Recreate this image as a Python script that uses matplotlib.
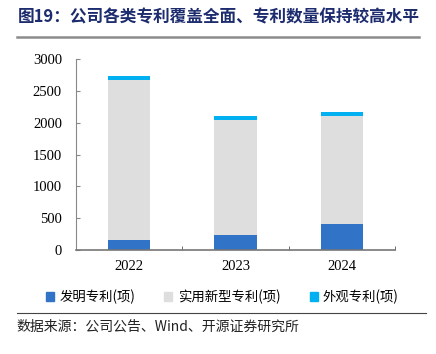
import numpy as np
import matplotlib.pyplot as plt
from matplotlib.lines import Line2D

plt.rcParams["font.family"] = ["Noto Sans CJK SC", "DejaVu Sans"]

years = ["2022", "2023", "2024"]
invention = [155, 240, 405]
utility = [2515, 1800, 1705]
design = [65, 60, 62]

series_names = ["发明专利(项)", "实用新型专利(项)", "外观专利(项)"]
colors = ["#3173C6", "#DEDEDE", "#00B0F0"]

fig = plt.figure(figsize=(4.36, 3.54), dpi=100)
ax = fig.add_axes([0.174, 0.294, 0.732, 0.539])

x = np.arange(len(years))
w = 0.4
bottom = np.zeros(len(years))
for vals, col in zip([invention, utility, design], colors):
    ax.bar(x, vals, w, bottom=bottom, color=col, edgecolor="none")
    bottom += np.array(vals)

ax.set_xlim(-0.5, 2.5)
ax.set_ylim(0, 3000)
ax.set_yticks(range(0, 3001, 500))
ax.set_xticks(x)
ax.set_xticklabels(years)
ax.set_xticks(np.arange(-0.5, 2.6, 1), minor=True)

for lbl in ax.get_xticklabels() + ax.get_yticklabels():
    lbl.set_fontfamily("Liberation Serif")
    lbl.set_fontsize(10.5)

ax.tick_params(axis="x", which="major", length=0, pad=7)
ax.tick_params(axis="x", which="minor", direction="in", length=3, color="#555555")
ax.tick_params(axis="y", direction="in", length=3, color="#888888", pad=10)

for s in ["top", "right"]:
    ax.spines[s].set_visible(False)
ax.spines["left"].set_color("#888888")
ax.spines["bottom"].set_color("#777777")
ax.spines["bottom"].set_linewidth(1.2)

# title and rules
fig.text(0.04, 0.952, "图19：公司各类专利覆盖全面、专利数量保持较高水平",
         fontsize=12, fontweight="bold", color="#1C2C6E", va="center")
fig.add_artist(Line2D([0.038, 0.962], [0.896, 0.896], color="#8C8C8C", lw=1.8))
fig.add_artist(Line2D([0.038, 0.978], [0.116, 0.116], color="#444444", lw=0.8))

handles = [plt.Rectangle((0, 0), 1, 1, color=c) for c in colors]
fig.legend(handles, series_names, loc="center", bbox_to_anchor=(0.51, 0.161),
           ncol=3, frameon=False, fontsize=9.6, handlelength=0.6, handleheight=0.6,
           handletextpad=0.4, columnspacing=2.2)

fig.text(0.038, 0.076, "数据来源：公司公告、Wind、开源证券研究所",
         fontsize=10, color="#222222", va="center")

fig.savefig("out.png", dpi=100)
